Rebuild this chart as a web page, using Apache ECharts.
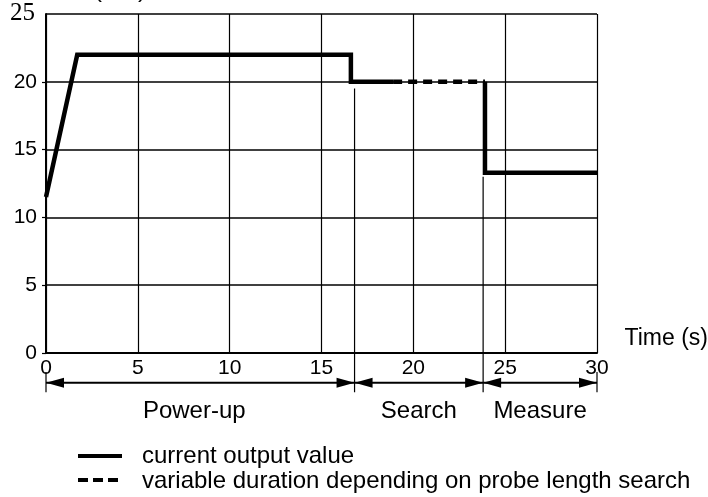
<!DOCTYPE html>
<html><head><meta charset="utf-8">
<script src="https://cdn.jsdelivr.net/npm/echarts@6/dist/echarts.min.js"></script>
<style>html,body{margin:0;padding:0;background:#fff}#c{width:708px;height:497px}</style>
</head><body><div id="c"></div>
<script>
// ---- data ----
const xTicks = [0, 5, 10, 15, 20, 25, 30];
const yTicks = [0, 5, 10, 15, 20, 25];
const currentOutputA = [[0, 11.5], [1.7, 22], [16.6, 22], [16.6, 20], [18.9, 20]];
const currentOutputB = [[23.9, 20], [23.9, 13.3], [30, 13.3]];
const variableDuration = [[18.9, 20], [23.9, 20]];
const phaseBounds = [0, 16.8, 23.8, 30];
const phaseNames = ['Power-up', 'Search', 'Measure'];
const dividerTops = [19.5, 13.0];        // where the phase divider lines start (y value)
const phaseRowY = -2.2;                  // level of the phase arrows (y value, below axis)
const phaseRowBottom = -2.9;
const phaseBarTop = -1.4;
const xAxisName = 'Time (s)';
const yAxisName = 'Current (mA)';
const legendNames = ['current output value', 'variable duration depending on probe length search'];

const FONT = "'Liberation Sans', Arial, sans-serif";
const FS = 21;
const chart = echarts.init(document.getElementById('c'), null, {renderer: 'canvas'});

const arrowSeries = [];
for (let i = 0; i < phaseNames.length; i++) {
  arrowSeries.push({
    type: 'line', clip: false, silent: true, animation: false,
    lineStyle: {color: '#000', width: 2},
    itemStyle: {color: '#000', borderWidth: 0},
    symbol: 'none', z: 4,
    data: [
      {value: [phaseBounds[i], phaseRowY], symbol: 'triangle', symbolSize: [10, 18], symbolRotate: 90, symbolOffset: [9, 0]},
      {value: [phaseBounds[i + 1], phaseRowY], symbol: 'triangle', symbolSize: [10, 18], symbolRotate: -90, symbolOffset: [-9, 0]}
    ]
  });
}
const dividerData = [
  [phaseBounds[0], phaseBarTop], [phaseBounds[0], phaseRowBottom], [phaseBounds[0], null],
  [phaseBounds[1], dividerTops[0]], [phaseBounds[1], phaseRowBottom], [phaseBounds[1], null],
  [phaseBounds[2], dividerTops[1]], [phaseBounds[2], phaseRowBottom], [phaseBounds[2], null],
  [phaseBounds[3], phaseBarTop], [phaseBounds[3], phaseRowBottom]
];

chart.setOption({
  animation: false,
  backgroundColor: '#fff',
  grid: {left: 46, right: 111, top: 14, bottom: 144, containLabel: false},
  xAxis: {
    type: 'value', min: xTicks[0], max: xTicks[xTicks.length - 1], interval: 5,
    axisLine: {show: true, lineStyle: {color: '#000', width: 2}},
    axisTick: {show: false},
    splitLine: {show: true, lineStyle: {color: '#000', width: 1.2}},
    axisLabel: {color: '#000', fontFamily: FONT, fontSize: FS, margin: 5}
  },
  yAxis: {
    type: 'value', min: yTicks[0], max: yTicks[yTicks.length - 1], interval: 5,
    axisLine: {show: true, lineStyle: {color: '#000', width: 2}},
    axisTick: {show: true, length: 4, lineStyle: {color: '#000', width: 1.2}},
    splitLine: {show: true, lineStyle: {color: '#000', width: 1.6}},
    axisLabel: {color: '#000', fontFamily: FONT, fontSize: FS, margin: 9, showMaxLabel: false}
  },
  series: [
    {type: 'line', symbol: 'none', clip: false, lineStyle: {color: '#000', width: 4.5, join: 'miter', cap: 'butt'}, data: currentOutputA, z: 5},
    {type: 'line', symbol: 'none', clip: false, lineStyle: {color: '#000', width: 4.5, join: 'miter', cap: 'butt'}, data: currentOutputB, z: 5},
    {type: 'line', symbol: 'none', clip: false, lineStyle: {color: '#000', width: 4.5, type: [9, 6], cap: 'butt'}, data: variableDuration, z: 5},
    {type: 'line', symbol: 'none', clip: false, silent: true, connectNulls: false, lineStyle: {color: '#000', width: 1.2}, data: dividerData, z: 3},
    ...arrowSeries
  ]
});

const graphics = [];
for (let i = 0; i < phaseNames.length; i++) {
  const mid = (phaseBounds[i] + phaseBounds[i + 1]) / 2;
  const p = chart.convertToPixel({gridIndex: 0}, [mid, 0]);
  graphics.push({type: 'text', x: p[0] - (i === 0 ? 6 : 0), y: 411, style: {text: phaseNames[i], fill: '#000', font: '24px ' + FONT, textAlign: 'center', textVerticalAlign: 'middle'}});
}
// serif top tick label
const pt = chart.convertToPixel({gridIndex: 0}, [0, yTicks[yTicks.length - 1]]);
graphics.push({type: 'text', x: pt[0] - 11, y: pt[1] - 1, style: {text: String(yTicks[yTicks.length - 1]), fill: '#000', font: "25px 'Liberation Serif', 'Times New Roman', serif", textAlign: 'right', textVerticalAlign: 'middle'}});
const pr = chart.convertToPixel({gridIndex: 0}, [xTicks[xTicks.length - 1], 0]);
graphics.push({type: 'text', x: 708, y: pr[1] - 14, style: {text: xAxisName, fill: '#000', font: '23px ' + FONT, textAlign: 'right', textVerticalAlign: 'middle'}});
graphics.push({type: 'text', x: 146, y: 2, style: {text: yAxisName, fill: '#000', font: '24px ' + FONT, textAlign: 'right', textVerticalAlign: 'bottom'}});
// legend
graphics.push({type: 'line', shape: {x1: 78, y1: 456, x2: 122, y2: 456}, style: {stroke: '#000', lineWidth: 4}});
graphics.push({type: 'line', shape: {x1: 78, y1: 480, x2: 120, y2: 480}, style: {stroke: '#000', lineWidth: 4, lineDash: [10, 5]}});
graphics.push({type: 'text', x: 142, y: 456, style: {text: legendNames[0], fill: '#000', font: '24px ' + FONT, textAlign: 'left', textVerticalAlign: 'middle'}});
graphics.push({type: 'text', x: 142, y: 481, style: {text: legendNames[1], fill: '#000', font: '24px ' + FONT, textAlign: 'left', textVerticalAlign: 'middle'}});
chart.setOption({graphic: graphics});
</script></body></html>
